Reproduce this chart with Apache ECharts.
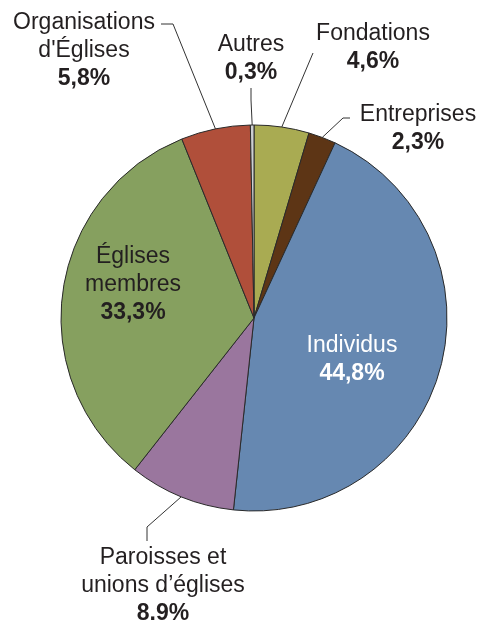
<!DOCTYPE html>
<html><head><meta charset="utf-8">
<script src="https://cdn.jsdelivr.net/npm/echarts@6/dist/echarts.min.js"></script>
<style>html,body{margin:0;padding:0;background:#fff}#c{width:477px;height:625px}</style>
</head><body><div id="c"></div>
<script>
// ---- data ----
const categories = ["Fondations", "Entreprises", "Individus", "Paroisses et unions d’églises", "Églises membres", "Organisations d'Églises", "Autres"];
const labelTexts = [["Fondations"], ["Entreprises"], ["Individus"], ["Paroisses et", "unions d’églises"], ["Églises", "membres"], ["Organisations", "d'Églises"], ["Autres"]];
const shares = [4.6, 2.3, 44.8, 8.9, 33.3, 5.8, 0.3];
const shareLabels = ["4,6%", "2,3%", "44,8%", "8.9%", "33,3%", "5,8%", "0,3%"];

// ---- styles / label placement ----
const colors = ["#a9ab52", "#5d3515", "#6688b1", "#9a769e", "#86a05f", "#b04f3a", "#cdcfd2"];
const inside = [false, false, true, false, true, false, false];
const labelPlace = [
  { x: 373, y: 48, line: [[313, 53], [313, 53]] },
  { x: 418, y: 129, line: [[343, 118], [350, 118]] },
  { x: 352, y: 360 },
  { x: 163, y: 586, line: [[147, 527], [147, 541]] },
  { x: 133, y: 285 },
  { x: 84, y: 51, line: [[173, 24], [161, 24]] },
  { x: 251, y: 59, line: [[251, 100], [251, 88]] }
];

const FONT = "'Liberation Sans', Arial, Helvetica, sans-serif";
const data = categories.map((name, i) => ({
  name: name,
  value: shares[i],
  itemStyle: { color: colors[i] },
  label: { position: inside[i] ? 'inside' : 'outside' },
  labelLine: { show: !inside[i] }
}));

const chart = echarts.init(document.getElementById('c'), null, { renderer: 'canvas' });
chart.setOption({
  animation: false,
  backgroundColor: '#ffffff',
  series: [{
    type: 'pie',
    center: [254, 318],
    radius: 193,
    startAngle: 90,
    clockwise: true,
    avoidLabelOverlap: false,
    silent: true,
    emphasis: { disabled: true },
    itemStyle: { borderColor: '#2a2a2a', borderWidth: 1 },
    labelLine: { show: true, length: 10, length2: 10, smooth: false, lineStyle: { color: '#333333', width: 1 } },
    label: {
      show: true,
      fontFamily: FONT,
      formatter: function (p) {
        const i = p.dataIndex;
        const w = i === 2 ? 'w' : 'n';
        return labelTexts[i].map(t => '{' + w + '|' + t + '}').join('\n') + '\n{' + w + 'b|' + shareLabels[i] + '}';
      },
      rich: {
        n: { fontSize: 23, lineHeight: 28, color: '#231f20', fontFamily: FONT, align: 'center' },
        nb: { fontSize: 23, lineHeight: 28, color: '#231f20', fontFamily: FONT, fontWeight: 'bold', align: 'center' },
        w: { fontSize: 23, lineHeight: 28, color: '#ffffff', fontFamily: FONT, align: 'center' },
        wb: { fontSize: 23, lineHeight: 28, color: '#ffffff', fontFamily: FONT, fontWeight: 'bold', align: 'center' }
      }
    },
    labelLayout: function (params) {
      const cfg = labelPlace[params.dataIndex];
      const out = { x: cfg.x, y: cfg.y, align: 'center', verticalAlign: 'middle' };
      if (cfg.line && params.labelLinePoints) {
        const p0 = params.labelLinePoints[0];
        out.labelLinePoints = [[p0[0], p0[1]], cfg.line[0], cfg.line[1]];
      }
      return out;
    },
    data: data
  }]
});
</script>
</body></html>
